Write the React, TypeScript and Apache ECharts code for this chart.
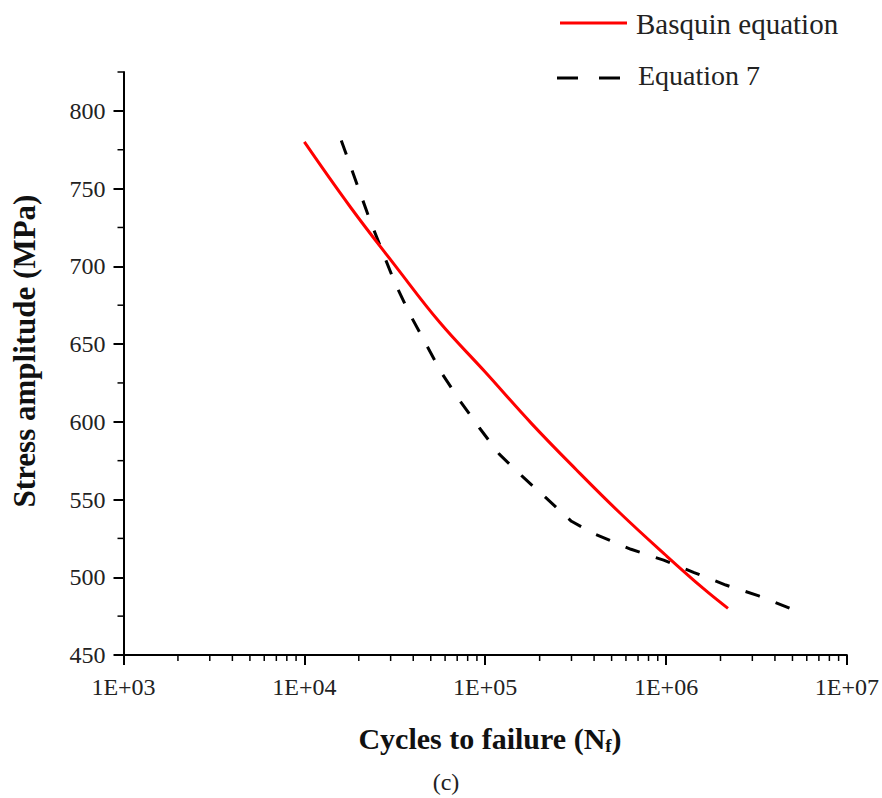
import React, { useEffect, useRef } from 'react';
import * as echarts from 'echarts';

// Basquin fit: cycles to failure vs stress amplitude (MPa)
const basquinCycles = [1e4, 1.8e4, 3.2e4, 5.6e4, 1e5, 1.8e5, 3.2e5, 5.6e5, 1e6, 1.6e6, 2.2e6];
const basquinStress = [780, 738, 700, 664, 632, 599, 569, 541, 514, 493, 480];

// Equation 7 prediction
const eq7Cycles = [16000, 23000, 31500, 38000, 57000, 72000, 93000, 120000, 160000, 217000, 300000, 400000, 640000, 970000, 1430000, 2140000, 3260000, 5100000];
const eq7Stress = [781, 730, 690, 670, 632, 614, 596, 579, 565, 551, 536, 528, 518, 511, 503, 495, 488, 479];

// Axis ticks
const stressTicks = [450, 500, 550, 600, 650, 700, 750, 800];
const stressMinorTicks = [475, 525, 575, 625, 675, 725, 775];
const stressAxisTop = 825;
const cycleDecades = [1e3, 1e4, 1e5, 1e6, 1e7];
const cycleMinorMultipliers = [2, 3, 4, 5, 6, 7, 8, 9];

// Legend entries
const legendNames = ['Basquin equation', 'Equation 7'];

const SERIF = 'Liberation Serif';

const cycleMinorTicks: number[] = [];
cycleDecades.slice(0, -1).forEach((d) => cycleMinorMultipliers.forEach((m) => cycleMinorTicks.push(d * m)));

export default function App() {
  const ref = useRef<HTMLDivElement>(null);

  useEffect(() => {
    if (!ref.current) return;
    const chart = echarts.init(ref.current, null, { renderer: 'svg' });
    const yMin = stressTicks[0];
    const xMin = cycleDecades[0];

    chart.setOption({
      animation: false,
      backgroundColor: '#fff',
      textStyle: { fontFamily: SERIF },
      grid: { left: 123.5, right: 34, top: 72, bottom: 143, containLabel: false },
      xAxis: {
        type: 'log',
        logBase: 10,
        min: cycleDecades[0],
        max: cycleDecades[cycleDecades.length - 1],
        axisLine: { show: true, lineStyle: { color: '#000', width: 2 } },
        axisTick: { show: true, length: 10, lineStyle: { color: '#000', width: 2 } },
        splitLine: { show: false },
        axisLabel: {
          fontSize: 24,
          color: '#222',
          fontFamily: SERIF,
          margin: 20,
          formatter: (v: number) => {
            const e = Math.round(Math.log10(v));
            return '1E+' + String(e).padStart(2, '0');
          },
        },
      },
      yAxis: {
        type: 'value',
        min: yMin,
        max: stressAxisTop,
        interval: 50,
        axisLine: { show: true, lineStyle: { color: '#000', width: 2 } },
        axisTick: { show: true, length: 10, lineStyle: { color: '#000', width: 2 }, customValues: stressTicks },
        splitLine: { show: false },
        axisLabel: {
          fontSize: 24,
          color: '#222',
          fontFamily: SERIF,
          margin: 18,
          customValues: stressTicks,
        },
      },
      graphic: [
        // legend: solid red sample
        {
          type: 'line',
          shape: { x1: 560, y1: 23, x2: 627, y2: 23 },
          style: { stroke: '#ff0000', lineWidth: 3 },
        },
        {
          type: 'text',
          x: 636,
          y: 24,
          style: {
            text: legendNames[0],
            fontSize: 29,
            fontFamily: SERIF,
            fill: '#222',
            align: 'left',
            verticalAlign: 'middle',
          },
        },
        // legend: dashed black sample
        {
          type: 'line',
          shape: { x1: 557, y1: 78, x2: 620, y2: 78 },
          style: { stroke: '#000', lineWidth: 3, lineDash: [21, 21] },
        },
        {
          type: 'text',
          x: 638,
          y: 75,
          style: {
            text: legendNames[1],
            fontSize: 28,
            fontFamily: SERIF,
            fill: '#222',
            align: 'left',
            verticalAlign: 'middle',
          },
        },
        {
          type: 'text',
          x: 24,
          y: 351,
          rotation: Math.PI / 2,
          style: {
            text: 'Stress amplitude (MPa)',
            fontSize: 31,
            fontWeight: 'bold',
            fontFamily: SERIF,
            fill: '#111',
            align: 'center',
            verticalAlign: 'middle',
          },
        },
        {
          type: 'text',
          x: 490,
          y: 738,
          style: {
            text: '{n|Cycles to failure (N}{s|f}{n|)}',
            align: 'center',
            verticalAlign: 'middle',
            rich: {
              n: { fontSize: 30, fontWeight: 'bold', fontFamily: SERIF, fill: '#111', lineHeight: 34 },
              s: { fontSize: 19, fontWeight: 'bold', fontFamily: SERIF, fill: '#111', lineHeight: 20, verticalAlign: 'bottom' },
            },
          },
        },
        {
          type: 'text',
          x: 446,
          y: 782,
          style: {
            text: '(c)',
            fontSize: 24,
            fontFamily: SERIF,
            fill: '#222',
            align: 'center',
            verticalAlign: 'middle',
          },
        },
      ],
      series: [
        {
          name: legendNames[0],
          type: 'line',
          data: basquinCycles.map((n, i) => [n, basquinStress[i]]),
          smooth: 0.4,
          symbol: 'none',
          lineStyle: { color: '#ff0000', width: 3, join: 'round' },
          itemStyle: { color: '#ff0000' },
          z: 3,
        },
        {
          name: legendNames[1],
          type: 'line',
          data: eq7Cycles.map((n, i) => [n, eq7Stress[i]]),
          smooth: false,
          symbol: 'none',
          lineStyle: { color: '#000', width: 3, type: [15, 17] },
          itemStyle: { color: '#000' },
          z: 2,
        },
        {
          // minor ticks on the logarithmic cycles axis (2..9 within each decade)
          type: 'custom',
          silent: true,
          clip: false,
          data: cycleMinorTicks.map((v) => [v, yMin]),
          renderItem: (_p: any, api: any) => {
            const pt = api.coord([api.value(0), api.value(1)]);
            return {
              type: 'line',
              shape: { x1: pt[0], y1: pt[1], x2: pt[0], y2: pt[1] + 6 },
              style: { stroke: '#000', lineWidth: 1.5 },
            };
          },
        },
        {
          // minor ticks on the stress axis, plus the short cap at its top
          type: 'custom',
          silent: true,
          clip: false,
          data: stressMinorTicks.concat([stressAxisTop]).map((v) => [xMin, v]),
          renderItem: (_p: any, api: any) => {
            const pt = api.coord([api.value(0), api.value(1)]);
            return {
              type: 'line',
              shape: { x1: pt[0] - 6, y1: pt[1], x2: pt[0], y2: pt[1] },
              style: { stroke: '#000', lineWidth: 1.5 },
            };
          },
        },
      ],
    });

    return () => chart.dispose();
  }, []);

  return (
    <div
      ref={ref}
      style={{ position: 'fixed', left: 0, top: 0, width: 882, height: 798, background: '#fff' }}
    />
  );
}
